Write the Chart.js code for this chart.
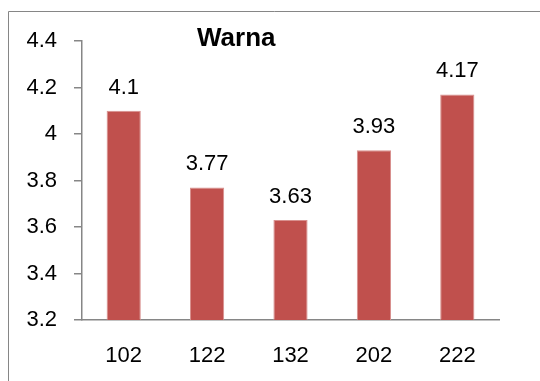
<!DOCTYPE html>
<html>
<head>
<meta charset="utf-8">
<script src="https://cdn.jsdelivr.net/npm/chart.js@4/dist/chart.umd.min.js"></script>
<style>
  html, body { margin: 0; padding: 0; background: #fff; }
  #wrap { position: relative; width: 540px; height: 381px; }
</style>
</head>
<body>
<div id="wrap"><canvas id="myChart" width="540" height="381"></canvas></div>
<script>
'use strict';

// DATA
// ====
var categories = ['102', '122', '132', '202', '222'];
var values = [4.1, 3.77, 3.63, 3.93, 4.17];
var yTicks = [3.2, 3.4, 3.6, 3.8, 4.0, 4.2, 4.4];
var chartTitle = 'Warna';

var FONT = "'Liberation Sans', Arial, sans-serif";
var AXIS_GRAY = '#868686';

// frame, title and value labels
var decorations = {
    id: 'decorations',
    beforeDraw: function (chart) {
        var ctx = chart.ctx;
        ctx.save();
        ctx.strokeStyle = AXIS_GRAY;
        ctx.lineWidth = 1;
        ctx.beginPath();
        ctx.moveTo(8.5, chart.height);
        ctx.lineTo(8.5, 11.5);
        ctx.lineTo(chart.width, 11.5);
        ctx.stroke();
        ctx.restore();
    },
    afterDatasetsDraw: function (chart) {
        var ctx = chart.ctx;
        var area = chart.chartArea;
        ctx.save();
        ctx.fillStyle = '#000';
        ctx.textAlign = 'center';
        ctx.textBaseline = 'alphabetic';
        ctx.font = 'bold 26px ' + FONT;
        ctx.fillText(chartTitle, area.left + area.width * 0.37, 46);

        ctx.font = '22px ' + FONT;
        var meta = chart.getDatasetMeta(0);
        meta.data.forEach(function (bar, i) {
            ctx.fillText(String(values[i]), bar.x, bar.y - 17);
        });
        ctx.restore();
    }
};

var init = function () {
    var ctx = document.getElementById('myChart');
    new Chart(ctx, {
        type: 'bar',
        data: {
            labels: categories,
            datasets: [{
                data: values,
                backgroundColor: '#C0504D',
                borderColor: '#D8908E',
                borderWidth: 1,
                categoryPercentage: 1,
                barPercentage: 0.41
            }]
        },
        options: {
            responsive: false,
            animation: false,
            layout: { padding: { left: 0, right: 41, top: 41, bottom: 0 } },
            plugins: {
                legend: { display: false },
                title: { display: false },
                tooltip: { enabled: false }
            },
            scales: {
                x: {
                    grid: { drawOnChartArea: false, drawTicks: false },
                    border: { color: AXIS_GRAY, width: 1.5 },
                    ticks: { color: '#000', font: { family: FONT, size: 22 }, padding: 23, maxRotation: 0 },
                    afterFit: function (scale) { scale.height = 61; }
                },
                y: {
                    min: yTicks[0],
                    max: yTicks[yTicks.length - 1],
                    afterBuildTicks: function (scale) {
                        scale.ticks = yTicks.map(function (v) { return { value: v }; });
                    },
                    grid: { drawOnChartArea: false, tickLength: 8, color: AXIS_GRAY, lineWidth: 1.5 },
                    border: { color: AXIS_GRAY, width: 1.5 },
                    ticks: {
                        color: '#000',
                        font: { family: FONT, size: 22 },
                        padding: 17,
                        callback: function (v) { return String(parseFloat(Number(v).toFixed(1))); }
                    },
                    afterFit: function (scale) { scale.width = 82; }
                }
            }
        },
        plugins: [decorations]
    });
};

init();
</script>
</body>
</html>
